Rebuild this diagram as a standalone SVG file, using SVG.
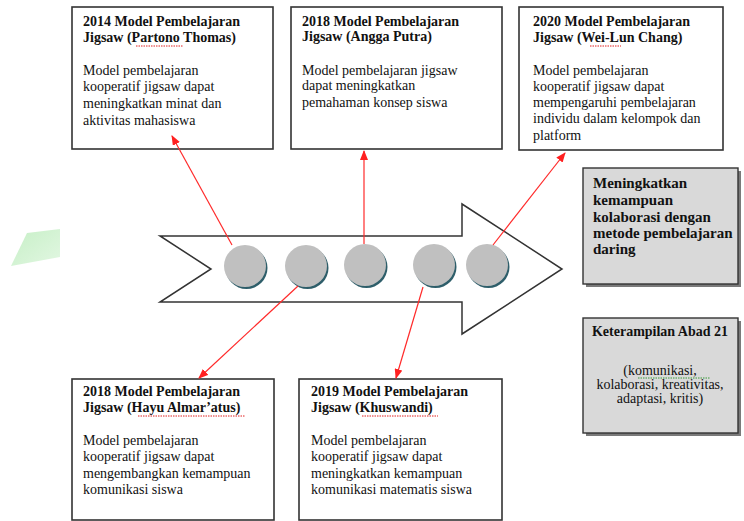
<svg xmlns="http://www.w3.org/2000/svg" width="744" height="521" viewBox="0 0 744 521">
<defs>
<style>
.box{fill:#fff;stroke:#333;stroke-width:1.6}
.gbox{fill:#d9d9d9;stroke:#333;stroke-width:1.4}
.shadow{fill:#7a7a7a}
.t{font-family:"Liberation Serif","Times New Roman",serif;font-size:14px;font-weight:bold;fill:#111}
.t2{font-family:"Liberation Serif","Times New Roman",serif;font-size:15px;font-weight:bold;fill:#111}
.b{font-family:"Liberation Serif","Times New Roman",serif;font-size:14px;fill:#111}
.red{stroke:#ff2a2a;stroke-width:1.2;fill:none}
.sq{stroke:#e02020;stroke-width:1;stroke-dasharray:1.5 1;fill:none}
.sqg{stroke:#3a9a3a;stroke-width:1;stroke-dasharray:1.5 1;fill:none}
.dot{fill:#c0c0c0}
.dsh{fill:#2e5e6a}
</style>
<marker id="ah" markerUnits="userSpaceOnUse" markerWidth="10" markerHeight="8" refX="9" refY="4" orient="auto">
<path d="M0,0 L10,4 L0,8 Z" fill="#ff2020"/>
</marker>
<linearGradient id="gg" x1="0" y1="0" x2="1" y2="1">
<stop offset="0" stop-color="#c6efc6"/>
<stop offset="1" stop-color="#e2f7e2"/>
</linearGradient>
</defs>
<rect width="744" height="521" fill="#fff"/>
<polygon points="27,233 60,229 60,257 11,266" fill="url(#gg)"/>

<g id="arrow">
<polygon points="160,236 462,236 462,204 562,269 462,334 462,302 160,302 211,269" fill="#fff" stroke="#333" stroke-width="1.5" stroke-linejoin="miter"/>
</g>

<g id="dots">
<circle class="dsh" cx="246.5" cy="268" r="21"/><circle class="dot" cx="245" cy="266" r="21"/>
<circle class="dsh" cx="307.5" cy="268" r="21"/><circle class="dot" cx="306" cy="266" r="21"/>
<circle class="dsh" cx="366.5" cy="267" r="21"/><circle class="dot" cx="365" cy="265" r="21"/>
<circle class="dsh" cx="435.5" cy="267" r="21"/><circle class="dot" cx="434" cy="265" r="21"/>
<circle class="dsh" cx="488.5" cy="267" r="21"/><circle class="dot" cx="487" cy="265" r="21"/>
</g>

<g id="box1">
<rect class="box" x="72" y="7" width="201" height="142"/>
<text class="t" x="83" y="26">2014 Model Pembelajaran</text>
<text class="t" x="83" y="42">Jigsaw (Partono Thomas)</text>
<path class="sq" d="M136,46 H183"/>
<text class="b" x="83" y="75">Model pembelajaran</text>
<text class="b" x="83" y="91">kooperatif jigsaw dapat</text>
<text class="b" x="83" y="108">meningkatkan  minat dan</text>
<text class="b" x="83" y="125">aktivitas mahasiswa</text>
</g>

<g id="box2">
<rect class="box" x="291" y="7" width="211" height="142"/>
<text class="t" x="302" y="26">2018 Model Pembelajaran</text>
<text class="t" x="302" y="41">Jigsaw (Angga Putra)</text>
<text class="b" x="302" y="75">Model pembelajaran  jigsaw</text>
<text class="b" x="302" y="90">dapat meningkatkan</text>
<text class="b" x="302" y="107">pemahaman  konsep siswa</text>
</g>

<g id="box3">
<rect class="box" x="519" y="7" width="204" height="143"/>
<text class="t" x="533" y="26">2020 Model Pembelajaran</text>
<text class="t" x="533" y="42">Jigsaw (Wei-Lun Chang)</text>
<path class="sq" d="M590,46 H621"/>
<text class="b" x="533" y="75">Model pembelajaran</text>
<text class="b" x="533" y="91">kooperatif jigsaw dapat</text>
<text class="b" x="533" y="107">mempengaruhi  pembelajaran</text>
<text class="b" x="533" y="123">individu dalam kelompok dan</text>
<text class="b" x="533" y="140">platform</text>
</g>

<g id="box4">
<rect class="shadow" x="586" y="171" width="155" height="116"/>
<rect class="gbox" x="583" y="168" width="155" height="116"/>
<text class="t2" x="593" y="188">Meningkatkan</text>
<text class="t2" x="593" y="205">kemampuan</text>
<text class="t2" x="593" y="222">kolaborasi dengan</text>
<text class="t2" x="593" y="238">metode pembelajaran</text>
<text class="t2" x="593" y="254">daring</text>
</g>

<g id="box5">
<rect class="shadow" x="586" y="321" width="155" height="115"/>
<rect class="gbox" x="583" y="318" width="155" height="115"/>
<text class="t" x="660" y="336" text-anchor="middle">Keterampilan Abad 21</text>
<text class="b" x="660" y="375" text-anchor="middle">(komunikasi,</text>
<path class="sqg" d="M638,378 H710"/>
<text class="b" x="660" y="389" text-anchor="middle">kolaborasi, kreativitas,</text>
<text class="b" x="660" y="403" text-anchor="middle">adaptasi, kritis)</text>
</g>

<g id="box6">
<rect class="box" x="72" y="379" width="202" height="141"/>
<text class="t" x="83" y="396">2018 Model Pembelajaran</text>
<text class="t" x="83" y="412">Jigsaw (Hayu Almar’atus)</text>
<path class="sq" d="M138,416 H245"/>
<text class="b" x="83" y="445">Model pembelajaran</text>
<text class="b" x="83" y="461">kooperatif jigsaw dapat</text>
<text class="b" x="83" y="478">mengembangkan  kemampuan</text>
<text class="b" x="83" y="494">komunikasi  siswa</text>
</g>

<g id="box7">
<rect class="box" x="299" y="379" width="203" height="141"/>
<text class="t" x="311" y="396">2019 Model Pembelajaran</text>
<text class="t" x="311" y="412">Jigsaw (Khuswandi)</text>
<path class="sq" d="M362,416 H438"/>
<text class="b" x="311" y="445">Model pembelajaran</text>
<text class="b" x="311" y="461">kooperatif jigsaw dapat</text>
<text class="b" x="311" y="478">meningkatkan  kemampuan</text>
<text class="b" x="311" y="494">komunikasi matematis  siswa</text>
</g>

<g id="connectors">
<line class="red" x1="232" y1="245" x2="172" y2="136" marker-end="url(#ah)"/>
<line class="red" x1="364" y1="244" x2="364" y2="151" marker-end="url(#ah)"/>
<line class="red" x1="493" y1="245" x2="565" y2="153" marker-end="url(#ah)"/>
<line class="red" x1="298" y1="286" x2="199" y2="378" marker-end="url(#ah)"/>
<line class="red" x1="423" y1="287" x2="396" y2="378" marker-end="url(#ah)"/>
</g>
</svg>
